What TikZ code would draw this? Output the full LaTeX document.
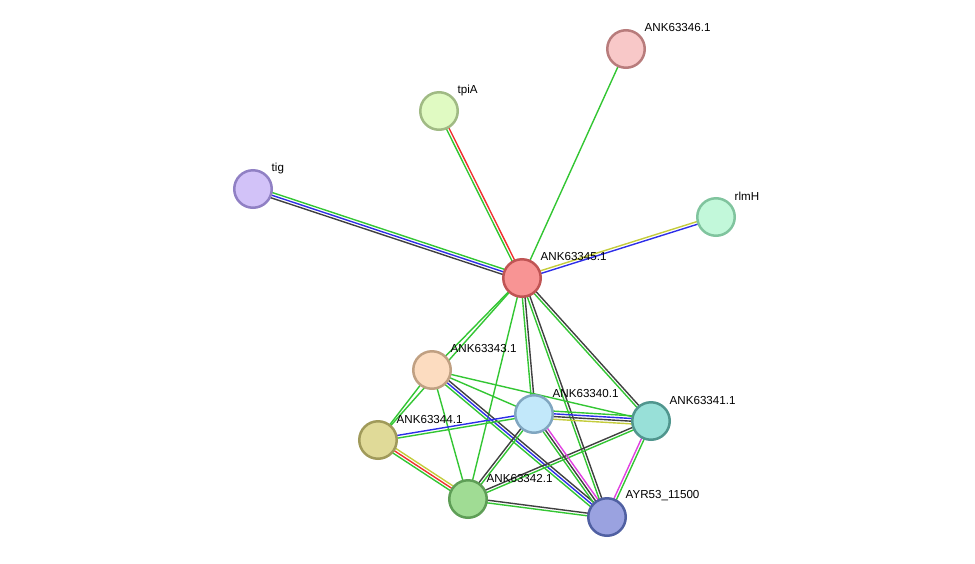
\documentclass[tikz,border=0pt]{standalone}
\usepackage{fontspec}
\setmainfont{Liberation Sans}
\usetikzlibrary{calc,backgrounds}
\definecolor{eg}{HTML}{33C633}
\definecolor{er}{HTML}{F03030}
\definecolor{eb}{HTML}{2E2EE8}
\definecolor{ek}{HTML}{404040}
\definecolor{ey}{HTML}{C4CC3C}
\definecolor{em}{HTML}{E040E0}
\tikzset{
  prot/.style={circle, minimum size=37.5pt, inner sep=0pt, line width=2.5pt},
  plabel/.style={anchor=west, font=\fontsize{11.6}{13}\selectfont, text=black, inner sep=0pt},
  edgeline/.style={line width=1.4pt}
}
\newcommand\stredge[4]{%
  \foreach \c [count=\i] in {#4} {
    \pgfmathsetmacro\off{(\i-(#3+1)/2)*2.7}
    \draw[\c, edgeline] ($(#1.center)!\off pt!90:(#2.center)$) -- ($(#2.center)!\off pt!-90:(#1.center)$);
  }%
}
\newcommand\prot[6]{%
  \definecolor{fill#1}{HTML}{#4}%
  \definecolor{line#1}{HTML}{#5}%
  \node[prot, draw=line#1, fill=fill#1] (#1) at (#2,#3) {};
  \node[plabel] (#1l) at (#2+18.5,#3-21) {#6};
}
\begin{document}
\begin{tikzpicture}[x=1pt,y=-1pt]
\useasboundingbox (0,0) rectangle (975,563);
\prot{n346}{626}{49}{F8C8C8}{B87C7C}{ANK63346.1}
\prot{tpiA}{439}{111}{E0FAC2}{A0BA84}{tpiA}
\prot{tig}{253}{189}{D2C2F8}{9080C4}{tig}
\prot{rlmH}{716}{217}{C2F8DA}{80C49E}{rlmH}
\prot{n345}{522}{278}{F89494}{C05454}{ANK63345.1}
\prot{n343}{432}{370}{FCDCC0}{C0A082}{ANK63343.1}
\prot{n340}{534}{414}{C2E8FA}{80A6C0}{ANK63340.1}
\prot{n341}{651}{421}{98E0D8}{50968E}{ANK63341.1}
\prot{n344}{378}{440}{E0DA98}{A09A5A}{ANK63344.1}
\prot{n342}{468}{499}{A0DC94}{5E9E56}{ANK63342.1}
\prot{n115}{607}{517}{9AA2E0}{5060A2}{AYR53\_11500}
\begin{pgfonlayer}{background}
\stredge{n345}{n346}{1}{eg}
\stredge{n345}{tpiA}{2}{er,eg}
\stredge{tig}{n345}{3}{ek,eb,eg}
\stredge{n345}{rlmH}{2}{eb,ey}
\stredge{n345}{n343}{1}{eg}
\stredge{n345}{n344}{1}{eg}
\stredge{n345}{n340}{2}{eg,ek}
\stredge{n345}{n341}{2}{eg,ek}
\stredge{n345}{n115}{2}{eg,ek}
\stredge{n345}{n342}{1}{eg}
\stredge{n343}{n344}{1}{eg}
\stredge{n343}{n342}{1}{eg}
\stredge{n343}{n340}{1}{eg}
\stredge{n343}{n341}{1}{eg}
\stredge{n343}{n115}{3}{eg,eb,ek}
\stredge{n344}{n340}{2}{eg,eb}
\stredge{n344}{n342}{3}{eg,er,ey}
\stredge{n342}{n340}{2}{eg,ek}
\stredge{n342}{n341}{2}{eg,ek}
\stredge{n342}{n115}{2}{eg,ek}
\stredge{n340}{n341}{4}{ey,ek,eb,eg}
\stredge{n340}{n115}{3}{eg,ek,em}
\stredge{n341}{n115}{2}{em,eg}
\end{pgfonlayer}
\end{tikzpicture}
\end{document}
